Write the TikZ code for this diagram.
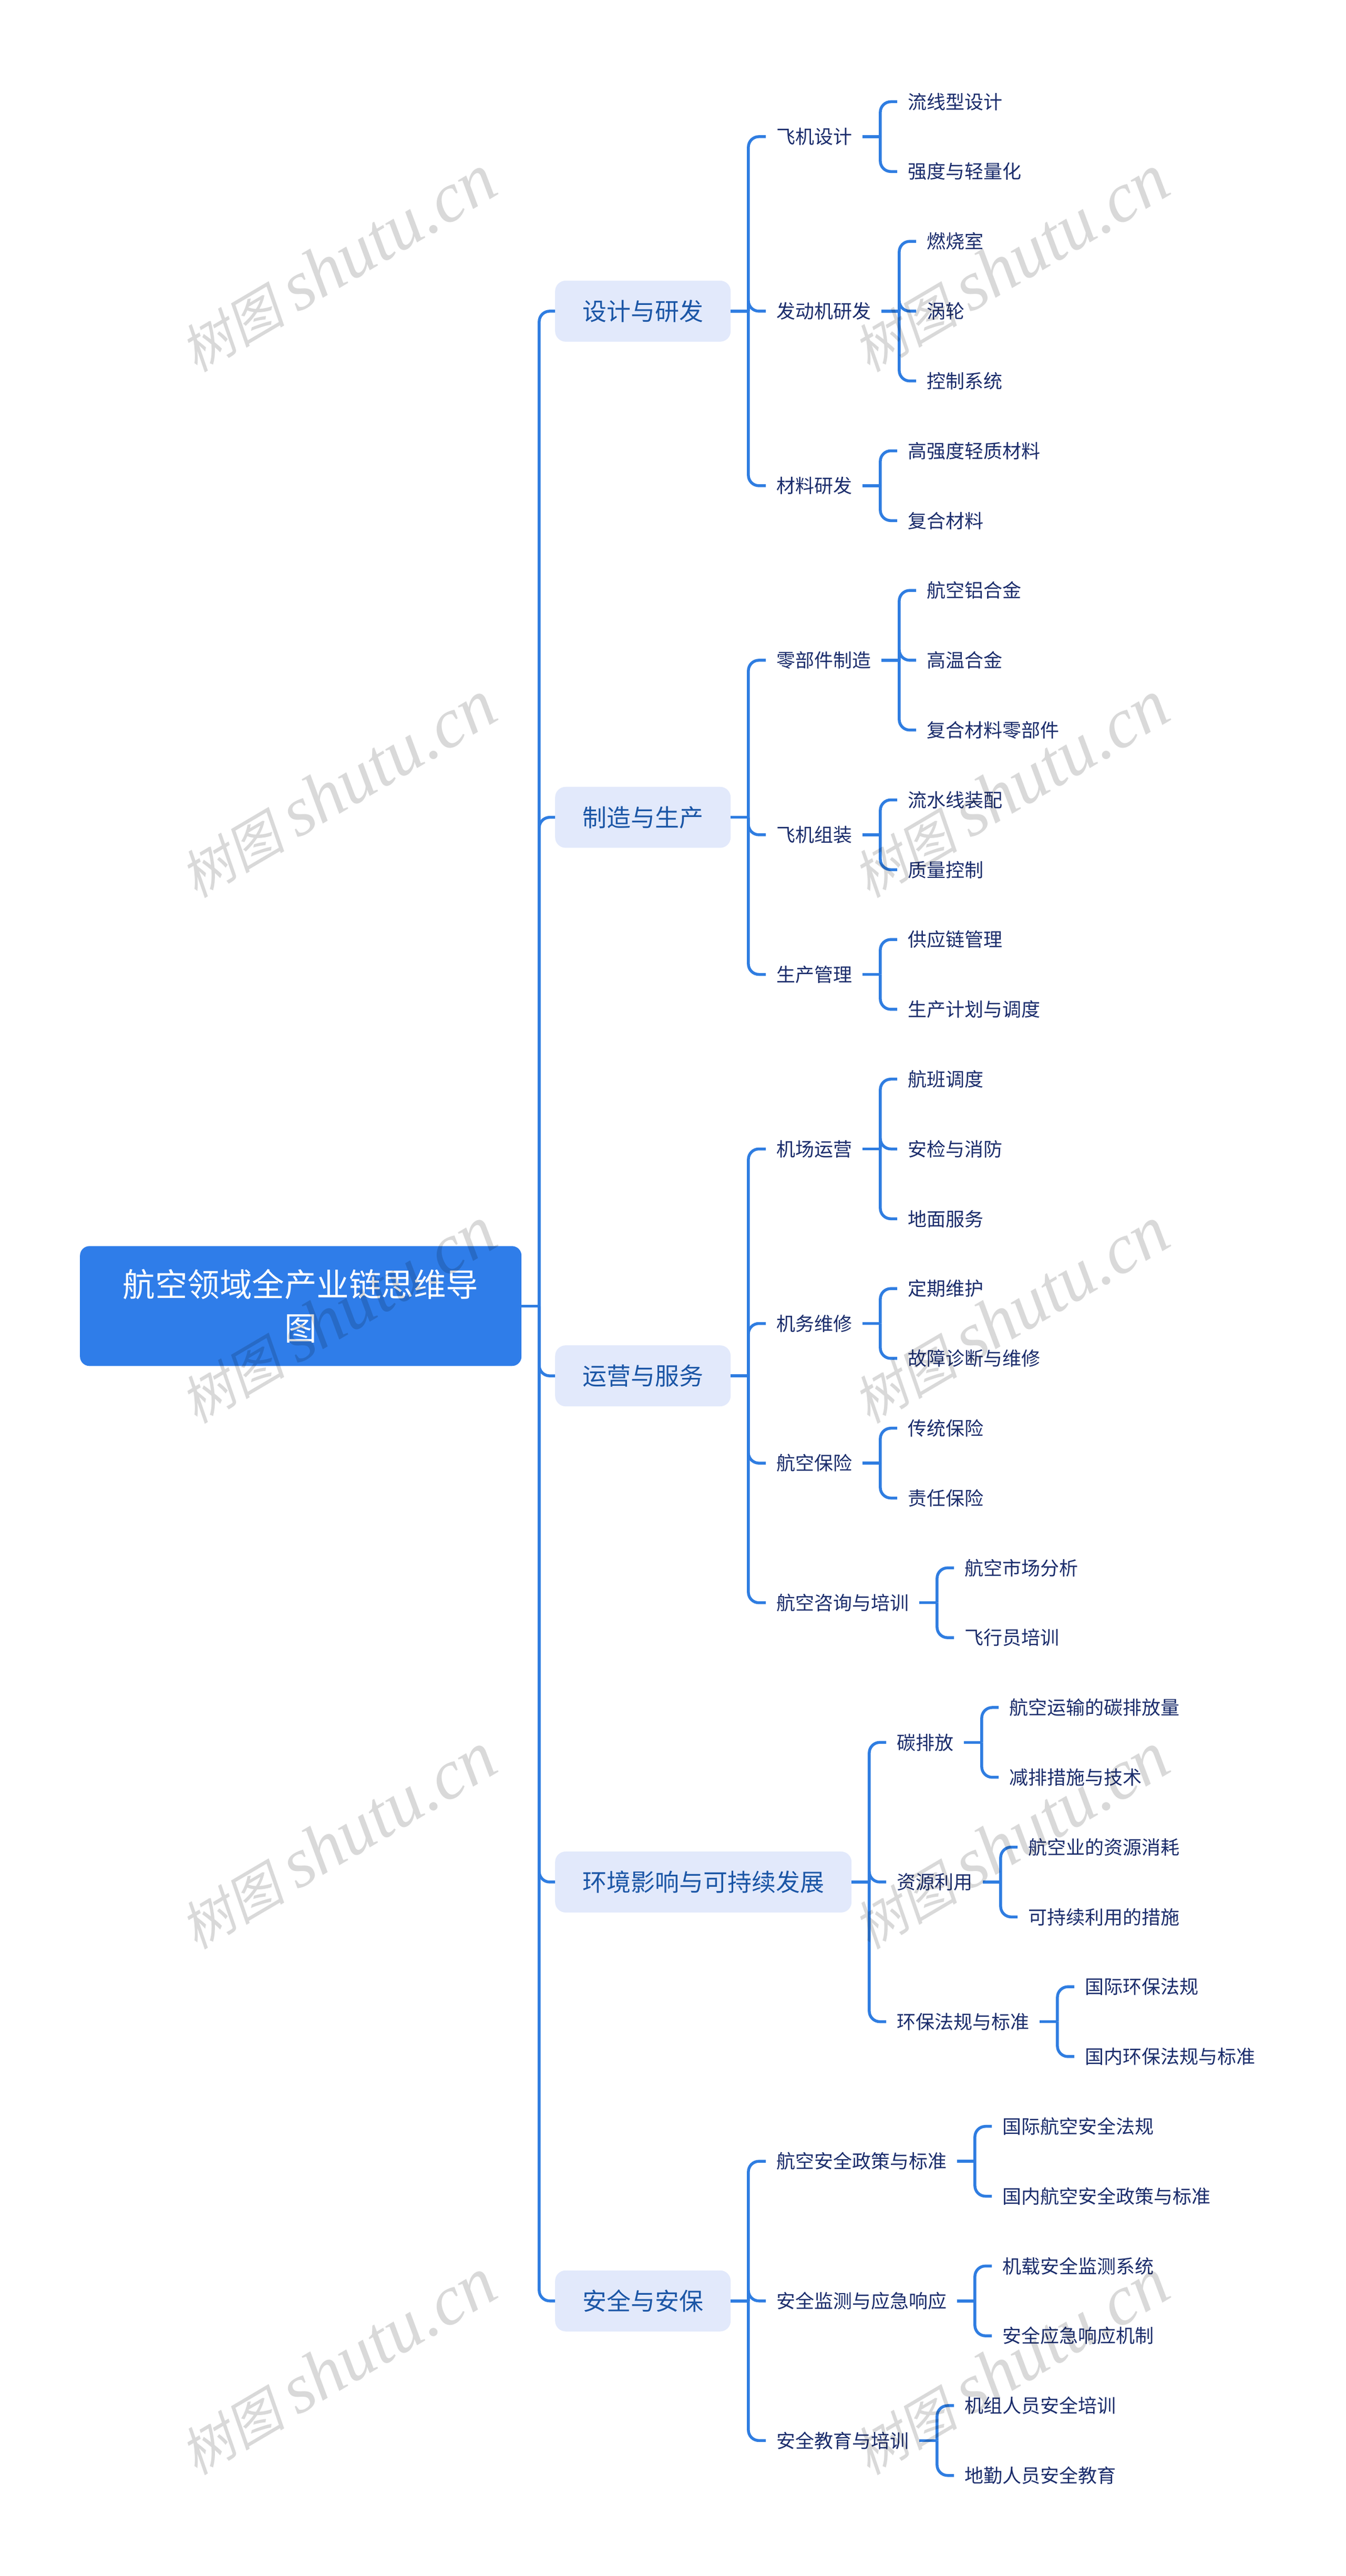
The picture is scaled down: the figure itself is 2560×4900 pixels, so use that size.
\documentclass[tikz,border=0pt]{standalone}
\usepackage{fontspec}
\setmainfont{Noto Sans CJK SC}
\newfontfamily\wmcjk[FakeSlant=0.2]{Noto Sans CJK SC}
\newfontfamily\wmlatin{Liberation Serif}
\definecolor{linkblue}{HTML}{2F7DE1}
\definecolor{rootblue}{HTML}{2F7DE9}
\definecolor{palefill}{HTML}{E2E9FB}
\definecolor{midtext}{HTML}{1B56A6}
\definecolor{darktext}{HTML}{1A2C6B}
\tikzset{
  rootbox/.style={fill=rootblue,text=white,rounded corners=18pt,anchor=west,align=center,
    minimum width=840pt,minimum height=228pt,inner sep=0pt,
    font=\fontsize{61.5pt}{83pt}\selectfont},
  mainbox/.style={fill=palefill,text=midtext,rounded corners=20pt,anchor=west,
    minimum height=116pt,inner ysep=0pt,inner xsep=52pt,
    font=\fontsize{46pt}{50pt}\selectfont},
  textbox/.style={text=darktext,anchor=west,inner xsep=20pt,inner ysep=4pt,
    font=\fontsize{36pt}{40pt}\selectfont},
  link/.style={draw=linkblue,line width=5.5pt},
  wmark/.style={text=black,opacity=0.15,text opacity=0.15,rotate=30.5,inner sep=0pt}
}
\begin{document}
\begin{tikzpicture}

  \newcommand\Y{-132.8pt}
  \newcommand\Gap{33.5pt}
  \newcommand\XB{1457pt}
  \newcommand\XE{1686pt}
  \newcommand\Branch[2]{%
    \draw[link] (#1.east) -- ++(\Gap,0) coordinate (t);
    \draw[link,rounded corners=20pt] (t) |- (#2.west);}

  \useasboundingbox (0pt,193.5pt) rectangle (2560pt,-4706.5pt); %% positioning

  \node[rootbox] (root) at (152pt,17.25*\Y) {航空领域全产业链思维导\\图};

  \node[mainbox] (des) at (1056pt,3*\Y) {设计与研发};
  \node[mainbox] (man) at (1056pt,10.25*\Y) {制造与生产};
  \node[mainbox] (ops) at (1056pt,18.25*\Y) {运营与服务};
  \node[mainbox] (env) at (1056pt,25.5*\Y) {环境影响与可持续发展};
  \node[mainbox] (saf) at (1056pt,31.5*\Y) {安全与安保};

  %% design
  \node[textbox] (des1) at (\XB,0.5*\Y) {飞机设计};
  \node[textbox] (des2) at (\XB,3*\Y) {发动机研发};
  \node[textbox] (des3) at (\XB,5.5*\Y) {材料研发};
  \node[textbox] (des11) at (1707pt,0*\Y) {流线型设计};
  \node[textbox] (des12) at (1707pt,1*\Y) {强度与轻量化};
  \node[textbox] (des21) at (1743pt,2*\Y) {燃烧室};
  \node[textbox] (des22) at (1743pt,3*\Y) {涡轮};
  \node[textbox] (des23) at (1743pt,4*\Y) {控制系统};
  \node[textbox] (des31) at (1707pt,5*\Y) {高强度轻质材料};
  \node[textbox] (des32) at (1707pt,6*\Y) {复合材料};

  %% manufacturing
  \node[textbox] (man1) at (\XB,8*\Y) {零部件制造};
  \node[textbox] (man2) at (\XB,10.5*\Y) {飞机组装};
  \node[textbox] (man3) at (\XB,12.5*\Y) {生产管理};
  \node[textbox] (man11) at (1743pt,7*\Y) {航空铝合金};
  \node[textbox] (man12) at (1743pt,8*\Y) {高温合金};
  \node[textbox] (man13) at (1743pt,9*\Y) {复合材料零部件};
  \node[textbox] (man21) at (1707pt,10*\Y) {流水线装配};
  \node[textbox] (man22) at (1707pt,11*\Y) {质量控制};
  \node[textbox] (man31) at (1707pt,12*\Y) {供应链管理};
  \node[textbox] (man32) at (1707pt,13*\Y) {生产计划与调度};

  %% operations
  \node[textbox] (ops1) at (\XB,15*\Y) {机场运营};
  \node[textbox] (ops2) at (\XB,17.5*\Y) {机务维修};
  \node[textbox] (ops3) at (\XB,19.5*\Y) {航空保险};
  \node[textbox] (ops4) at (\XB,21.5*\Y) {航空咨询与培训};
  \node[textbox] (ops11) at (1707pt,14*\Y) {航班调度};
  \node[textbox] (ops12) at (1707pt,15*\Y) {安检与消防};
  \node[textbox] (ops13) at (1707pt,16*\Y) {地面服务};
  \node[textbox] (ops21) at (1707pt,17*\Y) {定期维护};
  \node[textbox] (ops22) at (1707pt,18*\Y) {故障诊断与维修};
  \node[textbox] (ops31) at (1707pt,19*\Y) {传统保险};
  \node[textbox] (ops32) at (1707pt,20*\Y) {责任保险};
  \node[textbox] (ops41) at (1815pt,21*\Y) {航空市场分析};
  \node[textbox] (ops42) at (1815pt,22*\Y) {飞行员培训};

  %% environment
  \node[textbox] (env1) at (\XE,23.5*\Y) {碳排放};
  \node[textbox] (env2) at (\XE,25.5*\Y) {资源利用};
  \node[textbox] (env3) at (\XE,27.5*\Y) {环保法规与标准};
  \node[textbox] (env11) at (1900pt,23*\Y) {航空运输的碳排放量};
  \node[textbox] (env12) at (1900pt,24*\Y) {减排措施与技术};
  \node[textbox] (env21) at (1936pt,25*\Y) {航空业的资源消耗};
  \node[textbox] (env22) at (1936pt,26*\Y) {可持续利用的措施};
  \node[textbox] (env31) at (2044pt,27*\Y) {国际环保法规};
  \node[textbox] (env32) at (2044pt,28*\Y) {国内环保法规与标准};

  %% safety
  \node[textbox] (saf1) at (\XB,29.5*\Y) {航空安全政策与标准};
  \node[textbox] (saf2) at (\XB,31.5*\Y) {安全监测与应急响应};
  \node[textbox] (saf3) at (\XB,33.5*\Y) {安全教育与培训};
  \node[textbox] (saf11) at (1887pt,29*\Y) {国际航空安全法规};
  \node[textbox] (saf12) at (1887pt,30*\Y) {国内航空安全政策与标准};
  \node[textbox] (saf21) at (1887pt,31*\Y) {机载安全监测系统};
  \node[textbox] (saf22) at (1887pt,32*\Y) {安全应急响应机制};
  \node[textbox] (saf31) at (1815pt,33*\Y) {机组人员安全培训};
  \node[textbox] (saf32) at (1815pt,34*\Y) {地勤人员安全教育};

  \Branch{root}{des} \Branch{root}{man} \Branch{root}{ops} \Branch{root}{env} \Branch{root}{saf}

  \Branch{des}{des1} \Branch{des}{des2} \Branch{des}{des3}
  \Branch{des1}{des11} \Branch{des1}{des12}
  \Branch{des2}{des21} \Branch{des2}{des22} \Branch{des2}{des23}
  \Branch{des3}{des31} \Branch{des3}{des32}

  \Branch{man}{man1} \Branch{man}{man2} \Branch{man}{man3}
  \Branch{man1}{man11} \Branch{man1}{man12} \Branch{man1}{man13}
  \Branch{man2}{man21} \Branch{man2}{man22}
  \Branch{man3}{man31} \Branch{man3}{man32}

  \Branch{ops}{ops1} \Branch{ops}{ops2} \Branch{ops}{ops3} \Branch{ops}{ops4}
  \Branch{ops1}{ops11} \Branch{ops1}{ops12} \Branch{ops1}{ops13}
  \Branch{ops2}{ops21} \Branch{ops2}{ops22}
  \Branch{ops3}{ops31} \Branch{ops3}{ops32}
  \Branch{ops4}{ops41} \Branch{ops4}{ops42}

  \Branch{env}{env1} \Branch{env}{env2} \Branch{env}{env3}
  \Branch{env1}{env11} \Branch{env1}{env12}
  \Branch{env2}{env21} \Branch{env2}{env22}
  \Branch{env3}{env31} \Branch{env3}{env32}

  \Branch{saf}{saf1} \Branch{saf}{saf2} \Branch{saf}{saf3}
  \Branch{saf1}{saf11} \Branch{saf1}{saf12}
  \Branch{saf2}{saf21} \Branch{saf2}{saf22}
  \Branch{saf3}{saf31} \Branch{saf3}{saf32}

  %% watermark
  \newcommand\Wm{{\fontsize{100pt}{120pt}\wmcjk 树图}\hspace*{24pt}{\fontsize{134pt}{120pt}\wmlatin\itshape shutu.cn}}
  \node[wmark] (wm1) at (642pt,-308pt) {\Wm};
  \node[wmark] (wm2) at (1922pt,-308pt) {\Wm};
  \node[wmark] (wm3) at (642pt,-1308pt) {\Wm};
  \node[wmark] (wm4) at (1922pt,-1308pt) {\Wm};
  \node[wmark] (wm5) at (642pt,-2308pt) {\Wm};
  \node[wmark] (wm6) at (1922pt,-2308pt) {\Wm};
  \node[wmark] (wm7) at (642pt,-3308pt) {\Wm};
  \node[wmark] (wm8) at (1922pt,-3308pt) {\Wm};
  \node[wmark] (wm9) at (642pt,-4308pt) {\Wm};
  \node[wmark] (wm10) at (1922pt,-4308pt) {\Wm};

\end{tikzpicture}
\end{document}
